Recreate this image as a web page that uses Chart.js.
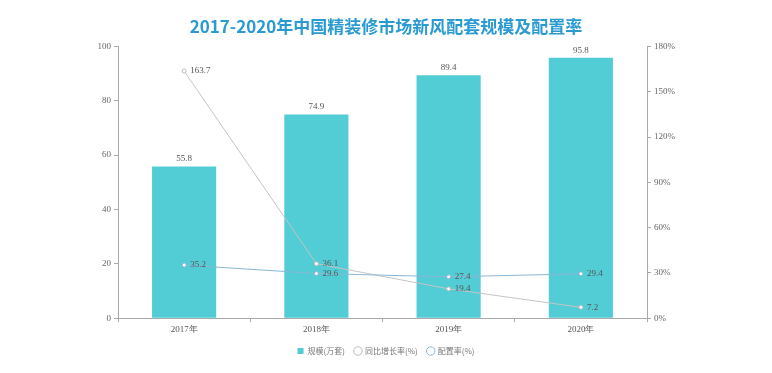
<!DOCTYPE html>
<html>
<head>
<meta charset="utf-8">
<script src="https://cdn.jsdelivr.net/npm/chart.js@4/dist/chart.umd.min.js"></script>
<style>
  html, body { margin: 0; padding: 0; background: #fff; }
  #wrap { width: 772px; height: 373px; position: relative; }
</style>
</head>
<body>
<div id="wrap"><canvas id="myChart" width="772" height="373"></canvas></div>
<script>
// data
const years = ["2017年", "2018年", "2019年", "2020年"];
const scale = [55.8, 74.9, 89.4, 95.8];        // 规模(万套)
const growth = [163.7, 36.1, 19.4, 7.2];       // 同比增长率(%)
const rate = [35.2, 29.6, 27.4, 29.4];         // 配置率(%)
const leftTicks = [0, 20, 40, 60, 80, 100];
const rightTicks = [0, 30, 60, 90, 120, 150, 180];

// value labels next to points / above bars
const labelPlugin = {
  id: "valueLabels",
  afterDatasetsDraw(chart) {
    const ctx = chart.ctx;
    ctx.save();
    ctx.font = "9px 'Liberation Serif', serif";
    ctx.fillStyle = "#555";
    chart.data.datasets.forEach((ds, i) => {
      const meta = chart.getDatasetMeta(i);
      meta.data.forEach((el, j) => {
        const v = ds.data[j];
        if (ds.type === "bar") {
          ctx.textAlign = "center";
          ctx.textBaseline = "bottom";
          ctx.fillText(v.toFixed(1), el.x, el.y - 3);
        } else {
          ctx.textAlign = "left";
          ctx.textBaseline = "middle";
          ctx.fillText(v.toFixed(1), el.x + 6, el.y);
        }
      });
    });
    ctx.restore();
  },
};

const data = {
  labels: years,
  datasets: [
    {
      type: "bar",
      label: "规模(万套)",
      data: scale,
      backgroundColor: "#52cdd5",
      yAxisID: "y",
      barPercentage: 0.97,
      categoryPercentage: 0.5,
      pointStyle: "rect",
      order: 2,
    },
    {
      type: "line",
      label: "同比增长率(%)",
      data: growth,
      borderColor: "#c4c4c4",
      backgroundColor: "#fff",
      borderWidth: 1,
      pointRadius: 2,
      pointBorderWidth: 1,
      pointBorderColor: "#bbb",
      yAxisID: "y1",
      order: 1,
    },
    {
      type: "line",
      label: "配置率(%)",
      data: rate,
      borderColor: "#8cb6d6",
      backgroundColor: "#fff",
      borderWidth: 1,
      pointRadius: 2,
      pointBorderWidth: 1,
      pointBorderColor: "#8cb6d6",
      yAxisID: "y1",
      order: 0,
    },
  ],
};

const tickFont = { family: "'Liberation Serif', serif", size: 9 };
const axisGrid = { drawOnChartArea: false, color: "#aaa", tickLength: 4 };

const config = {
  type: "bar",
  data,
  options: {
    responsive: false,
    animation: false,
    layout: { padding: { top: 2, bottom: 8 } },
    plugins: {
      title: {
        display: true,
        text: "2017-2020年中国精装修市场新风配套规模及配置率",
        color: "#2a9ad2",
        font: { family: "'Noto Sans CJK SC', sans-serif", size: 17, weight: "bold" },
        padding: { top: 14, bottom: 10 },
      },
      legend: {
        position: "bottom",
        labels: {
          color: "#777",
          font: { family: "'Noto Sans CJK SC', sans-serif", size: 8 },
          usePointStyle: true,
          boxWidth: 6,
          boxHeight: 6,
          padding: 10,
          sort: (a, b) => a.datasetIndex - b.datasetIndex,
        },
      },
      tooltip: { enabled: false },
    },
    scales: {
      x: {
        grid: { display: true, drawOnChartArea: false, color: "#aaa", tickLength: 4 },
        border: { color: "#aaa" },
        ticks: { color: "#555", font: tickFont, padding: 2 },
      },
      y: {
        position: "left",
        min: 0,
        max: 100,
        grid: axisGrid,
        border: { color: "#aaa" },
        afterBuildTicks: (axis) => { axis.ticks = leftTicks.map((v) => ({ value: v })); },
        ticks: { color: "#666", font: tickFont, padding: 3 },
        afterFit: (axis) => { axis.width = 118; },
      },
      y1: {
        position: "right",
        min: 0,
        max: 180,
        grid: axisGrid,
        border: { color: "#aaa" },
        afterBuildTicks: (axis) => { axis.ticks = rightTicks.map((v) => ({ value: v })); },
        ticks: { color: "#666", font: tickFont, padding: 3, callback: (v) => v + "%" },
        afterFit: (axis) => { axis.width = 125; },
      },
    },
  },
  plugins: [labelPlugin],
};

const myChart = new Chart(document.getElementById("myChart"), config);
</script>
</body>
</html>
